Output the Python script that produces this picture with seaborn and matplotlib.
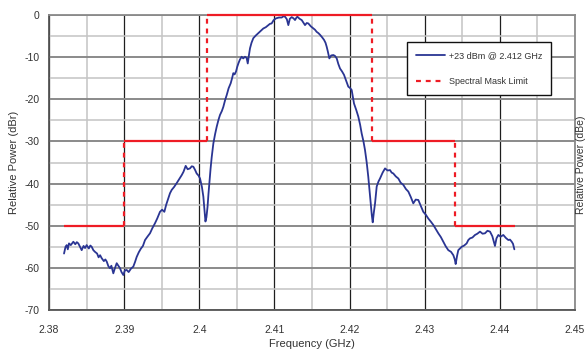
import matplotlib
matplotlib.use("Agg")
import matplotlib.pyplot as plt
from matplotlib.lines import Line2D
from matplotlib.ticker import MultipleLocator, FixedLocator
import seaborn as sns
import pandas as pd

# Measured spectrum: +23 dBm output at 2.412 GHz
freq_ghz = [
    2.38200, 2.38220, 2.38236, 2.38250, 2.38266, 2.38290, 2.38324, 2.38350, 2.38370, 2.38390,
    2.38410, 2.38435, 2.38460, 2.38480, 2.38501, 2.38530, 2.38550, 2.38568, 2.38590, 2.38612,
    2.38640, 2.38660, 2.38680, 2.38701, 2.38730, 2.38750, 2.38768, 2.38790, 2.38812, 2.38830,
    2.38856, 2.38875, 2.38901, 2.38920, 2.38945, 2.38965, 2.38989, 2.39010, 2.39034, 2.39060,
    2.39090, 2.39122, 2.39145, 2.39167, 2.39195, 2.39224, 2.39250, 2.39278, 2.39310, 2.39344,
    2.39375, 2.39411, 2.39440, 2.39477, 2.39505, 2.39535, 2.39560, 2.39588, 2.39610, 2.39633,
    2.39665, 2.39699, 2.39730, 2.39766, 2.39790, 2.39819, 2.39845, 2.39876, 2.39900, 2.39921,
    2.39945, 2.39965, 2.39990, 2.40010, 2.40035, 2.40054, 2.40070, 2.40082, 2.40095, 2.40110,
    2.40122, 2.40134, 2.40150, 2.40165, 2.40187, 2.40210, 2.40232, 2.40255, 2.40276, 2.40300,
    2.40320, 2.40345, 2.40365, 2.40390, 2.40418, 2.40435, 2.40453, 2.40470, 2.40489, 2.40505,
    2.40520, 2.40540, 2.40564, 2.40585, 2.40608, 2.40630, 2.40645, 2.40660, 2.40675, 2.40695,
    2.40719, 2.40750, 2.40786, 2.40820, 2.40852, 2.40885, 2.40919, 2.40940, 2.40963, 2.40990,
    2.41021, 2.41060, 2.41097, 2.41120, 2.41141, 2.41165, 2.41185, 2.41205, 2.41230, 2.41255,
    2.41274, 2.41290, 2.41305, 2.41335, 2.41363, 2.41385, 2.41407, 2.41430, 2.41451, 2.41485,
    2.41518, 2.41540, 2.41562, 2.41585, 2.41607, 2.41635, 2.41660, 2.41680, 2.41695, 2.41710,
    2.41731, 2.41755, 2.41784, 2.41805, 2.41829, 2.41850, 2.41873, 2.41900, 2.41926, 2.41955,
    2.41983, 2.42005, 2.42028, 2.42045, 2.42059, 2.42090, 2.42116, 2.42140, 2.42161, 2.42185,
    2.42205, 2.42228, 2.42249, 2.42265, 2.42281, 2.42296, 2.42308, 2.42322, 2.42339, 2.42361,
    2.42385, 2.42405, 2.42440, 2.42472, 2.42505, 2.42538, 2.42560, 2.42582, 2.42615, 2.42649,
    2.42680, 2.42715, 2.42750, 2.42782, 2.42815, 2.42848, 2.42880, 2.42915, 2.42950, 2.42981,
    2.43015, 2.43048, 2.43080, 2.43114, 2.43150, 2.43181, 2.43215, 2.43248, 2.43280, 2.43314,
    2.43350, 2.43381, 2.43400, 2.43412, 2.43430, 2.43447, 2.43470, 2.43492, 2.43525, 2.43558,
    2.43580, 2.43603, 2.43635, 2.43669, 2.43700, 2.43736, 2.43770, 2.43802, 2.43835, 2.43869,
    2.43900, 2.43935, 2.43955, 2.43980, 2.44010, 2.44046, 2.44080, 2.44113, 2.44135, 2.44158,
    2.44175, 2.44193,
]
power_dbr = [
    -56.6, -55.0, -54.6, -55.6, -54.2, -54.6, -53.8, -54.4, -53.9, -54.2,
    -54.9, -55.8, -54.8, -55.3, -54.6, -55.4, -54.7, -55.0, -55.8, -56.2,
    -56.6, -57.5, -57.0, -57.7, -58.4, -58.0, -58.5, -59.6, -60.1, -59.5,
    -61.3, -60.2, -58.9, -59.4, -60.1, -61.0, -61.7, -60.6, -60.5, -61.0,
    -60.2, -59.7, -58.6, -57.4, -56.3, -55.4, -54.8, -53.4, -52.6, -51.8,
    -50.6, -49.4, -48.3, -46.7, -46.2, -46.7, -45.0, -43.5, -42.3, -41.5,
    -40.8, -39.9, -39.0, -38.0, -37.2, -35.8, -36.6, -36.4, -35.9, -36.0,
    -36.8, -37.6, -38.1, -38.8, -40.8, -43.1, -46.5, -49.0, -48.0, -45.5,
    -42.5, -39.9, -36.5, -33.8, -30.5, -28.3, -26.5, -24.9, -23.7, -22.8,
    -21.8, -20.1, -19.0, -17.4, -16.2, -15.1, -13.8, -14.1, -13.4, -12.3,
    -11.5, -10.6, -9.9, -10.3, -9.9, -10.2, -11.5, -9.6, -7.9, -6.6,
    -5.5, -4.9, -4.3, -3.7, -3.2, -2.9, -2.4, -2.1, -2.0, -1.2,
    -0.8, -0.6, -0.6, -0.3, -0.4, -1.0, -2.4, -0.9, -0.5, -0.8,
    -1.2, -0.7, -0.4, -0.9, -1.2, -1.8, -2.4, -1.9, -2.0, -2.7,
    -3.2, -3.5, -4.0, -4.3, -4.7, -5.3, -5.9, -6.6, -7.5, -8.6,
    -10.3, -9.6, -9.5, -9.7, -10.3, -11.6, -12.7, -13.4, -14.2, -15.6,
    -17.0, -17.3, -17.8, -19.6, -21.0, -22.6, -24.1, -26.0, -28.1, -30.0,
    -32.0, -35.0, -38.4, -41.5, -44.7, -47.5, -49.2, -47.0, -44.7, -40.7,
    -39.5, -38.8, -37.4, -36.4, -36.9, -36.8, -37.4, -37.6, -38.3, -38.8,
    -39.8, -40.3, -41.3, -41.9, -43.2, -44.7, -43.8, -43.9, -45.4, -46.7,
    -47.4, -48.3, -49.0, -49.8, -50.9, -51.8, -52.7, -53.8, -54.9, -55.8,
    -56.2, -57.0, -58.0, -59.1, -57.2, -55.8, -55.4, -55.0, -54.7, -54.2,
    -53.4, -53.0, -52.8, -52.2, -51.9, -51.4, -51.9, -51.8, -51.2, -51.4,
    -52.5, -54.8, -53.0, -52.2, -52.6, -52.2, -52.9, -53.4, -53.3, -53.8,
    -54.3, -55.6,
]

# Spectral mask: segment edges (GHz) and limit level (dBr) for each segment
mask_edges = [2.382, 2.390, 2.401, 2.423, 2.434, 2.442]
mask_levels = [-50, -30, 0, -30, -50]

x_ticks = [2.38, 2.39, 2.40, 2.41, 2.42, 2.43, 2.44, 2.45]
x_tick_labels = ["2.38", "2.39", "2.4", "2.41", "2.42", "2.43", "2.44", "2.45"]
y_ticks = [0, -10, -20, -30, -40, -50, -60, -70]

trace_label = "+23 dBm @ 2.412 GHz"
mask_label = "Spectral Mask Limit"

sns.set_style("white")
plt.rcParams["font.family"] = ["Liberation Sans", "DejaVu Sans"]

trace_color = "#2a3593"
mask_color = "#ee1c25"

fig = plt.figure(figsize=(5.86, 3.56), dpi=100)
ax = fig.add_axes([49 / 586, 1 - 310 / 356, (575 - 49) / 586, (310 - 15) / 356])

ax.set_xlim(2.38, 2.45)
ax.set_ylim(-70, 0)

# grid: minor light gray, major horizontal gray, major vertical dark
ax.xaxis.set_minor_locator(MultipleLocator(0.005))
ax.yaxis.set_minor_locator(MultipleLocator(5))
ax.grid(which="minor", axis="both", color="#c4c4c4", lw=1.1, zorder=0)
ax.grid(which="major", axis="y", color="#8a8a8a", lw=1.4, zorder=0)
ax.grid(which="major", axis="x", color="#1e1e1e", lw=0.9, zorder=0)
ax.set_axisbelow(True)

df = pd.DataFrame({"freq": freq_ghz, "power": power_dbr})
sns.lineplot(data=df, x="freq", y="power", ax=ax, sort=False, color=trace_color,
             lw=1.3, zorder=3, legend=False)

# mask: solid limit levels joined by dashed transitions
ax.hlines(mask_levels, mask_edges[:-1], mask_edges[1:], colors=mask_color,
          lw=1.6, zorder=4, clip_on=False)
for i in range(1, len(mask_levels)):
    ax.vlines(mask_edges[i], min(mask_levels[i - 1], mask_levels[i]),
              max(mask_levels[i - 1], mask_levels[i]), colors=mask_color,
              lw=1.6, linestyles=(0, (2.2, 2.2)), zorder=4, clip_on=False)

ax.xaxis.set_major_locator(FixedLocator(x_ticks))
ax.set_xticklabels(x_tick_labels)
ax.yaxis.set_major_locator(FixedLocator(y_ticks))
ax.set_yticklabels([str(v) for v in y_ticks])
ax.tick_params(axis="both", which="major", labelsize=7.5, colors="#333333",
               labelcolor="#333333", length=3, width=1, direction="out", pad=4)
ax.tick_params(axis="both", which="minor", length=0)
ax.tick_params(axis="x", which="major", pad=8)

for side in ["left", "bottom"]:
    ax.spines[side].set_color("#555555")
    ax.spines[side].set_linewidth(1.3)
for side in ["top", "right"]:
    ax.spines[side].set_color("#8a8a8a")
    ax.spines[side].set_linewidth(1.3)

ax.set_xlabel("Frequency (GHz)", fontsize=8, color="#333333", labelpad=3)
ax.set_ylabel("Relative Power (dBr)", fontsize=8, color="#333333", labelpad=4)

handles = [
    Line2D([], [], color=trace_color, lw=1.3),
    Line2D([], [], color=mask_color, lw=1.6, ls=(0, (2.2, 2.2))),
]
leg = ax.legend(handles, [trace_label, mask_label], loc="upper left",
                bbox_to_anchor=((407 - 49) / 526, 1 - (42 - 15) / 295),
                fontsize=6.5, frameon=True, fancybox=False, framealpha=1,
                edgecolor="#111111", handlelength=3.2, labelspacing=1.9,
                borderpad=1.0, handletextpad=0.4, borderaxespad=0)
leg.get_frame().set_linewidth(1.0)
leg.set_zorder(6)
for t in leg.get_texts():
    t.set_color("#333333")

# axis label of the neighbouring panel along the right edge
fig.text(581 / 586, 1 - 165 / 356, "Relative Power (dBe)", rotation=90,
         fontsize=7.5, color="#333333", ha="center", va="center")

fig.savefig("out.png", dpi=100)
